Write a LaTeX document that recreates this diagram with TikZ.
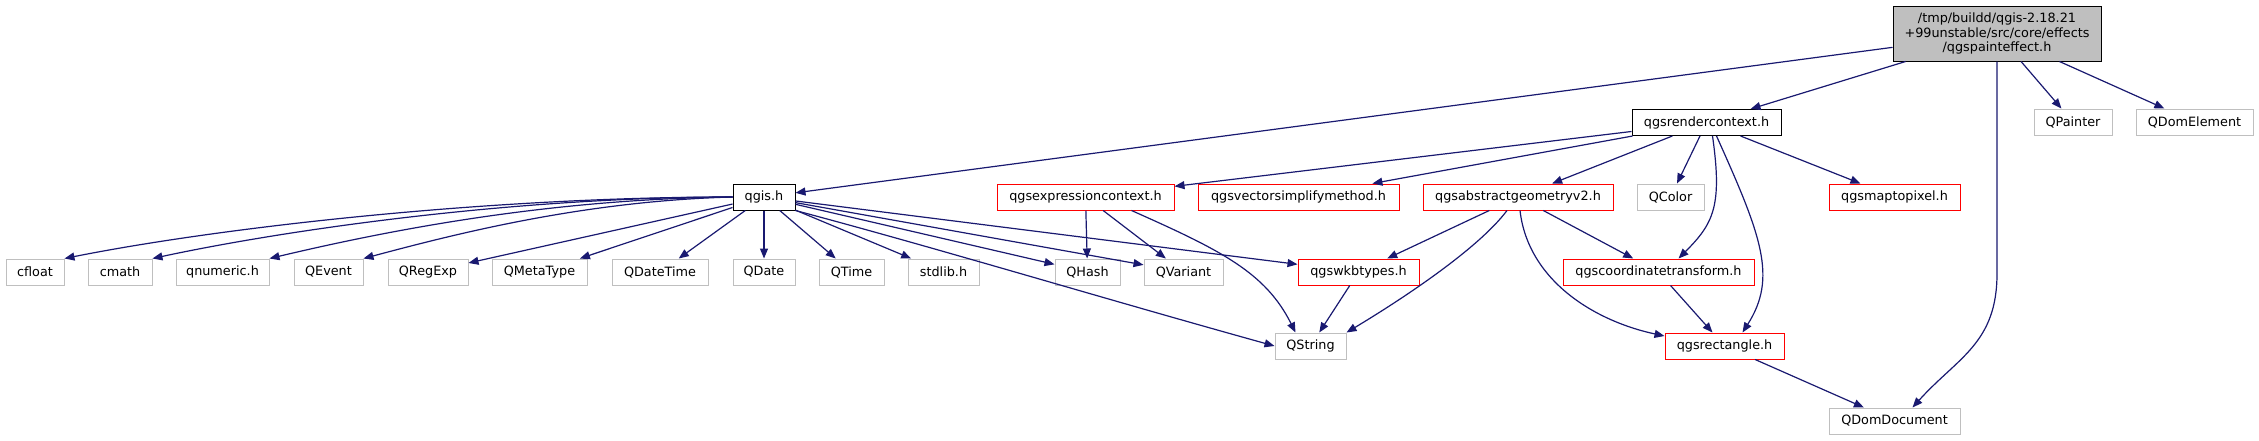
\documentclass[tikz,border=0pt]{standalone}
\usepackage{fontspec}
\setmainfont{DejaVu Sans}
\usetikzlibrary{positioning,arrows.meta,calc}
\definecolor{edgeblue}{RGB}{25,25,112}
\definecolor{boxgrey}{RGB}{191,191,191}

\begin{document}
\begin{tikzpicture}[x=0.5pt,y=-0.5pt,>={Triangle[length=5pt,width=4pt]},
    hfile/.style={draw,rectangle,inner sep=0pt,minimum height=13pt,align=center,
      font=\fontsize{6.4}{7.3}\selectfont,line width=0.5pt},
    wd/.style={minimum width=#1*0.5pt},
    doc/.style={hfile,draw=black},
    cut/.style={hfile,draw=red},
    ext/.style={hfile,draw=boxgrey},
    dep/.style={->,draw=edgeblue,line width=0.6pt}]
  \useasboundingbox (0,0) rectangle (2259,440);
  % top
  \node[doc,fill=boxgrey,wd=208,minimum height=27.5pt] (root) at (1997,33.5)
    {/tmp/buildd/qgis-2.18.21\\+99unstable/src/core/effects\\/qgspainteffect.h};
  \node[ext,wd=78] (qpainter) at (2073,122) {QPainter};
  \node[ext,wd=117] (qdomelem) at (2194.5,122) {QDomElement};
  \node[doc,wd=149] (rctx) at (1706.5,122.5) {qgsrendercontext.h};
  % second row
  \node[doc,wd=62] (qgis) at (764,197) {qgis.h};
  \node[cut,wd=177] (expr) at (1085.5,197) {qgsexpressioncontext.h};
  \node[cut,wd=201] (vsm) at (1298.5,197) {qgsvectorsimplifymethod.h};
  \node[cut,wd=190] (ageom) at (1518,197) {qgsabstractgeometryv2.h};
  \node[ext,wd=67] (qcolor) at (1670.5,197) {QColor};
  \node[cut,wd=131] (m2p) at (1894.5,197) {qgsmaptopixel.h};
  % third row
  \node[ext,wd=58] (cfloat) at (35,272) {cfloat};
  \node[ext,wd=64] (cmath) at (120,272) {cmath};
  \node[ext,wd=93] (qnumeric) at (222.5,272) {qnumeric.h};
  \node[ext,wd=69] (qevent) at (328.5,272) {QEvent};
  \node[ext,wd=80] (qregexp) at (428,272) {QRegExp};
  \node[ext,wd=95] (qmetatype) at (539.5,272) {QMetaType};
  \node[ext,wd=96] (qdatetime) at (660,272) {QDateTime};
  \node[ext,wd=62] (qdate) at (764,272) {QDate};
  \node[ext,wd=65] (qtime) at (851.5,272) {QTime};
  \node[ext,wd=71] (stdlib) at (943.5,272) {stdlib.h};
  \node[ext,wd=65] (qhash) at (1087.5,272) {QHash};
  \node[ext,wd=79] (qvariant) at (1183.5,272) {QVariant};
  \node[cut,wd=121] (wkb) at (1358.5,272) {qgswkbtypes.h};
  \node[cut,wd=191] (ctrans) at (1658.5,272) {qgscoordinatetransform.h};
  % bottom
  \node[ext,wd=71] (qstring) at (1310.5,346) {QString};
  \node[cut,wd=119] (rect) at (1724.5,346) {qgsrectangle.h};
  \node[ext,wd=131] (qdomdoc) at (1894.5,421) {QDomDocument};

  % includes of the root file
  \draw[dep] (root) -- (qgis);
  \draw[dep] (root) -- (rctx);
  \draw[dep] (root) -- (qpainter);
  \draw[dep] (root) -- (qdomelem);
  \draw[dep] (root.south) -- ++(0,212) .. controls +(0,70) and +(45,-50) .. ($(qdomdoc.north)+(18,0)$);
  % qgsrendercontext.h
  \draw[dep] (rctx) -- (expr);
  \draw[dep] (rctx) -- (vsm);
  \draw[dep] (rctx) -- (ageom);
  \draw[dep] (rctx) -- (qcolor);
  \draw[dep] (rctx) -- (m2p);
  \draw[dep] ($(rctx.south)+(6,0)$) .. controls +(10,70) and +(35,-35) .. ($(ctrans.north)+(20,0)$);
  \draw[dep] ($(rctx.south)+(10,0)$) .. controls +(45,100) and +(35,-55) .. ($(rect.north)+(18,0)$);
  % qgis.h
  \draw[dep] (qgis.west) .. controls +(-250,0) and +(150,-30) .. (cfloat.north east);
  \draw[dep] (qgis.west) .. controls +(-220,0) and +(130,-28) .. (cmath.north east);
  \draw[dep] (qgis.west) .. controls +(-190,2) and +(110,-26) .. (qnumeric.north east);
  \draw[dep] (qgis.west) .. controls +(-150,4) and +(90,-24) .. (qevent.north east);
  \draw[dep] (qgis) -- (qregexp);
  \draw[dep] (qgis) -- (qmetatype);
  \draw[dep] (qgis) -- (qdatetime);
  \draw[dep] (qgis) -- (qdate);
  \draw[dep] (qgis) -- (qtime);
  \draw[dep] (qgis) -- (stdlib);
  \draw[dep] (qgis) -- (qhash);
  \draw[dep] (qgis) -- (qvariant);
  \draw[dep] (qgis) -- (wkb);
  \draw[dep] (qgis.south east) .. controls +(150,40) and +(-180,-50) .. (qstring.west);
  % qgsexpressioncontext.h
  \draw[dep] (expr) -- (qhash);
  \draw[dep] (expr) -- (qvariant);
  \draw[dep] ($(expr.south)+(46,0)$) .. controls +(90,40) and +(-30,-60) .. ($(qstring.north)+(-15,0)$);
  % qgsabstractgeometryv2.h
  \draw[dep] (ageom) -- (wkb);
  \draw[dep] (ageom) -- (ctrans);
  \draw[dep] ($(ageom.south)+(-11,0)$) .. controls +(-30,40) and +(50,-30) .. (qstring.north east);
  \draw[dep] ($(ageom.south)+(2,0)$) .. controls +(8,70) and +(-70,-15) .. ($(rect.west)+(0,-10)$);
  % the rest
  \draw[dep] (wkb) -- (qstring);
  \draw[dep] (ctrans) -- (rect);
  \draw[dep] (rect) -- (qdomdoc);
\end{tikzpicture}
\end{document}
